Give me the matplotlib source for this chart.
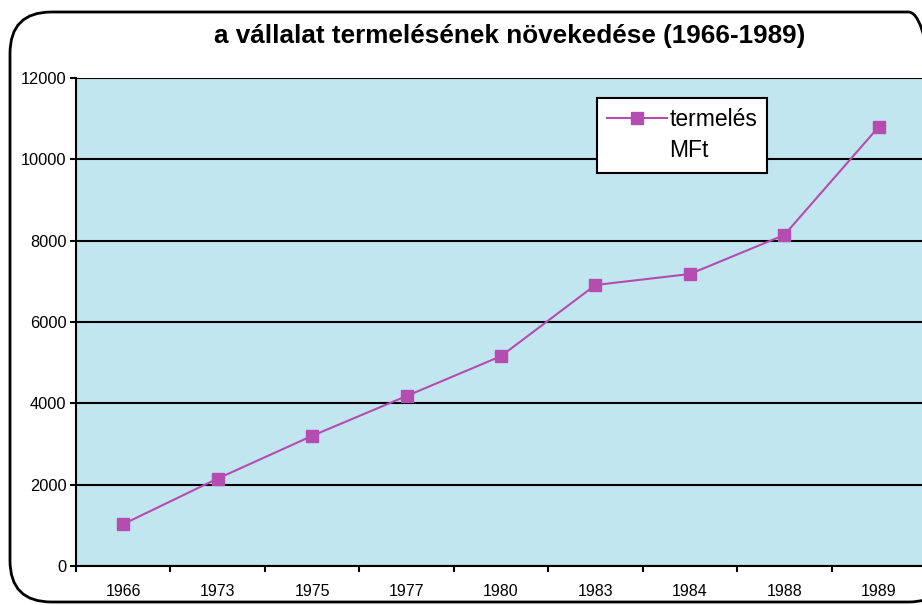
import matplotlib
matplotlib.use("Agg")
import matplotlib.pyplot as plt
from matplotlib.patches import FancyBboxPatch
from matplotlib.lines import Line2D

years = ["1966", "1973", "1975", "1977", "1980", "1983", "1984", "1988", "1989"]
production = [1030, 2150, 3200, 4180, 5160, 6910, 7180, 8140, 10800]
yticks = [0, 2000, 4000, 6000, 8000, 10000, 12000]
title = "a vállalat termelésének növekedése (1966-1989)"
legend_lines = ["termelés", "MFt"]

plt.rcParams['font.family'] = ['Liberation Sans', 'DejaVu Sans']

W, H = 922, 605
fig = plt.figure(figsize=(W / 100, H / 100), dpi=100)

# outer rounded border
border = FancyBboxPatch((10 / W, 3 / H), 940 / W, 590 / H,
                        boxstyle="round,pad=0,rounding_size=0.045",
                        transform=fig.transFigure, fill=False,
                        edgecolor="black", linewidth=2.0, zorder=0,
                        mutation_aspect=W / H)
fig.patches.append(border)

left, right, top, bottom = 76, 926, 78, 566
ax = fig.add_axes([left / W, 1 - bottom / H, (right - left) / W, (bottom - top) / H])
ax.set_facecolor("#c2e6ef")

x = list(range(len(years)))
line, = ax.plot(x, production, color="#b54cb0", linewidth=1.5, marker="s",
                markersize=9, markerfacecolor="#b54cb0", markeredgecolor="#b54cb0",
                zorder=3)

ax.set_xlim(-0.5, len(years) - 0.5)
ax.set_ylim(0, 12000)
ax.set_yticks(yticks)
ax.set_yticklabels([str(v) for v in yticks], fontsize=11.8)
ax.set_xticks([i + 0.5 for i in range(-1, len(years))], minor=False)
ax.set_xticklabels([])
ax.set_xticks(x, minor=True)
ax.set_xticklabels(years, minor=True, fontsize=11.5)
ax.tick_params(axis="x", which="minor", length=0, pad=13)
ax.tick_params(axis="x", which="major", length=4, width=1.5, direction="out")
ax.tick_params(axis="y", length=4, width=1.5, direction="out", pad=3)

ax.yaxis.grid(True, color="black", linewidth=1.5)
ax.set_axisbelow(True)
for side in ["top", "right"]:
    ax.spines[side].set_visible(False)
ax.spines["left"].set_linewidth(1.5)
ax.spines["bottom"].set_linewidth(1.5)

blank = Line2D([], [], linestyle="none", marker=None)
leg = ax.legend([line, blank], legend_lines, loc="upper left",
                bbox_to_anchor=((597 - left) / (right - left), 1 - (98 - top) / (bottom - top)),
                fontsize=16.5, frameon=True, fancybox=False, borderaxespad=0,
                handlelength=2.6, handletextpad=0.1, borderpad=0.45,
                labelspacing=0.35)
leg.get_frame().set_edgecolor("black")
leg.get_frame().set_linewidth(1.5)
leg.get_frame().set_facecolor("white")
leg.get_frame().set_alpha(1)

fig.text(510 / W, 1 - 36 / H, title, ha="center", va="center",
         fontsize=18.8, fontweight="bold")

fig.savefig("out.png", dpi=100)
